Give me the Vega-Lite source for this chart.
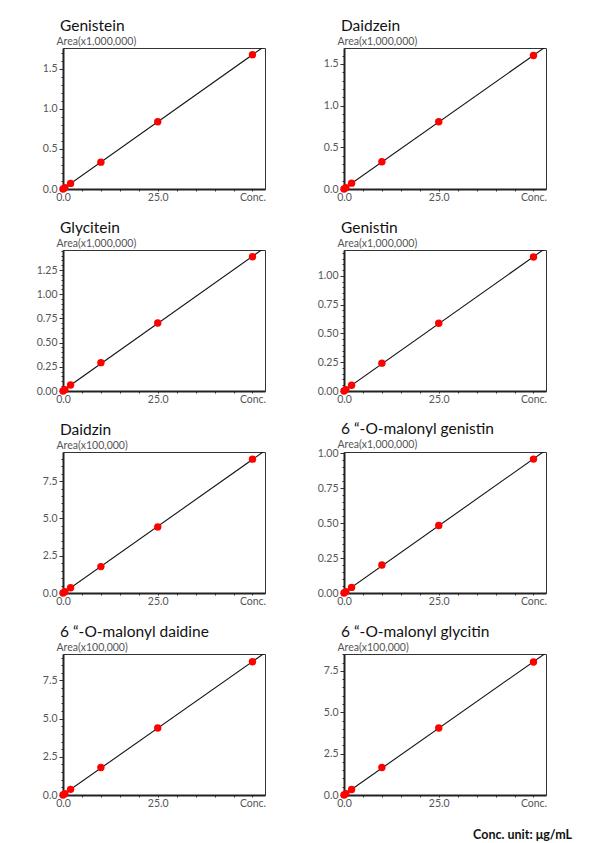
{
  "$schema": "https://vega.github.io/schema/vega-lite/v6.json",
  "padding": {"left": 35, "top": 18, "right": 5, "bottom": 5},
  "background": "white",
  "datasets": {
    "cal": [
      {"c": "Genistein", "x": 0, "y": 0}, {"c": "Genistein", "x": 0.5, "y": 0.017}, {"c": "Genistein", "x": 2, "y": 0.07}, {"c": "Genistein", "x": 10, "y": 0.335}, {"c": "Genistein", "x": 25, "y": 0.84}, {"c": "Genistein", "x": 50, "y": 1.675},
      {"c": "Daidzein", "x": 0, "y": 0}, {"c": "Daidzein", "x": 0.5, "y": 0.016}, {"c": "Daidzein", "x": 2, "y": 0.07}, {"c": "Daidzein", "x": 10, "y": 0.326}, {"c": "Daidzein", "x": 25, "y": 0.807}, {"c": "Daidzein", "x": 50, "y": 1.6},
      {"c": "Glycitein", "x": 0, "y": 0}, {"c": "Glycitein", "x": 0.5, "y": 0.014}, {"c": "Glycitein", "x": 2, "y": 0.062}, {"c": "Glycitein", "x": 10, "y": 0.293}, {"c": "Glycitein", "x": 25, "y": 0.702}, {"c": "Glycitein", "x": 50, "y": 1.388},
      {"c": "Genistin", "x": 0, "y": 0}, {"c": "Genistin", "x": 0.5, "y": 0.012}, {"c": "Genistin", "x": 2, "y": 0.05}, {"c": "Genistin", "x": 10, "y": 0.242}, {"c": "Genistin", "x": 25, "y": 0.588}, {"c": "Genistin", "x": 50, "y": 1.164},
      {"c": "Daidzin", "x": 0, "y": 0}, {"c": "Daidzin", "x": 0.5, "y": 0.09}, {"c": "Daidzin", "x": 2, "y": 0.35}, {"c": "Daidzin", "x": 10, "y": 1.77}, {"c": "Daidzin", "x": 25, "y": 4.43}, {"c": "Daidzin", "x": 50, "y": 8.97},
      {"c": "6 “-O-malonyl genistin", "x": 0, "y": 0}, {"c": "6 “-O-malonyl genistin", "x": 0.5, "y": 0.01}, {"c": "6 “-O-malonyl genistin", "x": 2, "y": 0.04}, {"c": "6 “-O-malonyl genistin", "x": 10, "y": 0.2}, {"c": "6 “-O-malonyl genistin", "x": 25, "y": 0.484}, {"c": "6 “-O-malonyl genistin", "x": 50, "y": 0.959},
      {"c": "6 “-O-malonyl daidine", "x": 0, "y": 0}, {"c": "6 “-O-malonyl daidine", "x": 0.5, "y": 0.09}, {"c": "6 “-O-malonyl daidine", "x": 2, "y": 0.37}, {"c": "6 “-O-malonyl daidine", "x": 10, "y": 1.8}, {"c": "6 “-O-malonyl daidine", "x": 25, "y": 4.39}, {"c": "6 “-O-malonyl daidine", "x": 50, "y": 8.72},
      {"c": "6 “-O-malonyl glycitin", "x": 0, "y": 0}, {"c": "6 “-O-malonyl glycitin", "x": 0.5, "y": 0.08}, {"c": "6 “-O-malonyl glycitin", "x": 2, "y": 0.33}, {"c": "6 “-O-malonyl glycitin", "x": 10, "y": 1.66}, {"c": "6 “-O-malonyl glycitin", "x": 25, "y": 4.05}, {"c": "6 “-O-malonyl glycitin", "x": 50, "y": 8.04}
    ]
  },
  "data": {"name": "cal"},
  "title": {"text": "Conc. unit: μg/mL", "orient": "bottom", "anchor": "end", "fontSize": 12.5, "fontWeight": "bold", "color": "#111", "offset": 20, "dx": 25},
  "columns": 2,
  "spacing": {"row": 61, "column": 79},
  "bounds": "flush",
  "concat": [
    {
      "title": {"text": "Genistein", "dx": -3, "offset": 2, "frame": "group"},
      "width": 202, "height": 141,
      "transform": [{"filter": "datum.c === 'Genistein'"}],
      "encoding": {
        "x": {"field": "x", "type": "quantitative", "scale": {"domain": [0, 53.3], "nice": false}, "axis": {"title": null, "values": [0,5,10,15,20,25,30,35,40,45,50], "tickSize": 2, "labelPadding": 1, "labelExpr": "datum.value == 0 ? '0.0' : datum.value == 25 ? '25.0' : datum.value == 50 ? 'Conc.' : ''"}},
        "y": {"field": "y", "type": "quantitative", "scale": {"domain": [0, 1.76], "nice": false}, "axis": {"title": "Area(x1,000,000)", "titleAngle": 0, "titleAlign": "left", "titleBaseline": "alphabetic", "titleX": -7, "titleY": -4, "values": [0,0.1,0.2,0.3,0.4,0.5,0.6,0.7,0.8,0.9,1.0,1.1,1.2,1.3,1.4,1.5,1.6,1.7], "tickSize": {"condition": {"test": "abs(datum.value*2 - round(datum.value*2)) < 0.001", "value": 4}, "value": 2}, "labelPadding": 2, "labelExpr": "abs(datum.value*2 - round(datum.value*2)) < 0.001 ? format(datum.value, '.1f') : ''"}}
      },
      "layer": [
        {"mark": {"type": "line", "color": "#111", "strokeWidth": 1.1, "clip": true}, "transform": [{"regression": "y", "on": "x", "extent": [0, 54]}], "encoding": {}},
        {"mark": {"type": "circle", "color": "#ff0000", "size": 55, "opacity": 1}, "encoding": {}}
      ]
    },
    {
      "title": {"text": "Daidzein", "dx": -3, "offset": 2, "frame": "group"},
      "width": 202, "height": 141,
      "transform": [{"filter": "datum.c === 'Daidzein'"}],
      "encoding": {
        "x": {"field": "x", "type": "quantitative", "scale": {"domain": [0, 53.3], "nice": false}, "axis": {"title": null, "values": [0,5,10,15,20,25,30,35,40,45,50], "tickSize": 2, "labelPadding": 1, "labelExpr": "datum.value == 0 ? '0.0' : datum.value == 25 ? '25.0' : datum.value == 50 ? 'Conc.' : ''"}},
        "y": {"field": "y", "type": "quantitative", "scale": {"domain": [0, 1.69], "nice": false}, "axis": {"title": "Area(x1,000,000)", "titleAngle": 0, "titleAlign": "left", "titleBaseline": "alphabetic", "titleX": -7, "titleY": -4, "values": [0,0.1,0.2,0.3,0.4,0.5,0.6,0.7,0.8,0.9,1.0,1.1,1.2,1.3,1.4,1.5,1.6], "tickSize": {"condition": {"test": "abs(datum.value*2 - round(datum.value*2)) < 0.001", "value": 4}, "value": 2}, "labelPadding": 2, "labelExpr": "abs(datum.value*2 - round(datum.value*2)) < 0.001 ? format(datum.value, '.1f') : ''"}}
      },
      "layer": [
        {"mark": {"type": "line", "color": "#111", "strokeWidth": 1.1, "clip": true}, "transform": [{"regression": "y", "on": "x", "extent": [0, 54]}], "encoding": {}},
        {"mark": {"type": "circle", "color": "#ff0000", "size": 55, "opacity": 1}, "encoding": {}}
      ]
    },
    {
      "title": {"text": "Glycitein", "dx": -3, "offset": 2, "frame": "group"},
      "width": 202, "height": 141,
      "transform": [{"filter": "datum.c === 'Glycitein'"}],
      "encoding": {
        "x": {"field": "x", "type": "quantitative", "scale": {"domain": [0, 53.3], "nice": false}, "axis": {"title": null, "values": [0,5,10,15,20,25,30,35,40,45,50], "tickSize": 2, "labelPadding": 1, "labelExpr": "datum.value == 0 ? '0.0' : datum.value == 25 ? '25.0' : datum.value == 50 ? 'Conc.' : ''"}},
        "y": {"field": "y", "type": "quantitative", "scale": {"domain": [0, 1.457], "nice": false}, "axis": {"title": "Area(x1,000,000)", "titleAngle": 0, "titleAlign": "left", "titleBaseline": "alphabetic", "titleX": -7, "titleY": -4, "values": [0,0.05,0.1,0.15,0.2,0.25,0.3,0.35,0.4,0.45,0.5,0.55,0.6,0.65,0.7,0.75,0.8,0.85,0.9,0.95,1.0,1.05,1.1,1.15,1.2,1.25,1.3,1.35,1.4,1.45], "tickSize": {"condition": {"test": "abs(datum.value*4 - round(datum.value*4)) < 0.001", "value": 4}, "value": 2}, "labelPadding": 2, "labelExpr": "abs(datum.value*4 - round(datum.value*4)) < 0.001 ? format(datum.value, '.2f') : ''"}}
      },
      "layer": [
        {"mark": {"type": "line", "color": "#111", "strokeWidth": 1.1, "clip": true}, "transform": [{"regression": "y", "on": "x", "extent": [0, 54]}], "encoding": {}},
        {"mark": {"type": "circle", "color": "#ff0000", "size": 55, "opacity": 1}, "encoding": {}}
      ]
    },
    {
      "title": {"text": "Genistin", "dx": -3, "offset": 2, "frame": "group"},
      "width": 202, "height": 141,
      "transform": [{"filter": "datum.c === 'Genistin'"}],
      "encoding": {
        "x": {"field": "x", "type": "quantitative", "scale": {"domain": [0, 53.3], "nice": false}, "axis": {"title": null, "values": [0,5,10,15,20,25,30,35,40,45,50], "tickSize": 2, "labelPadding": 1, "labelExpr": "datum.value == 0 ? '0.0' : datum.value == 25 ? '25.0' : datum.value == 50 ? 'Conc.' : ''"}},
        "y": {"field": "y", "type": "quantitative", "scale": {"domain": [0, 1.225], "nice": false}, "axis": {"title": "Area(x1,000,000)", "titleAngle": 0, "titleAlign": "left", "titleBaseline": "alphabetic", "titleX": -7, "titleY": -4, "values": [0,0.05,0.1,0.15,0.2,0.25,0.3,0.35,0.4,0.45,0.5,0.55,0.6,0.65,0.7,0.75,0.8,0.85,0.9,0.95,1.0,1.05,1.1,1.15,1.2], "tickSize": {"condition": {"test": "abs(datum.value*4 - round(datum.value*4)) < 0.001", "value": 4}, "value": 2}, "labelPadding": 2, "labelExpr": "abs(datum.value*4 - round(datum.value*4)) < 0.001 ? format(datum.value, '.2f') : ''"}}
      },
      "layer": [
        {"mark": {"type": "line", "color": "#111", "strokeWidth": 1.1, "clip": true}, "transform": [{"regression": "y", "on": "x", "extent": [0, 54]}], "encoding": {}},
        {"mark": {"type": "circle", "color": "#ff0000", "size": 55, "opacity": 1}, "encoding": {}}
      ]
    },
    {
      "title": {"text": "Daidzin", "dx": -3, "offset": 2, "frame": "group"},
      "width": 202, "height": 141,
      "transform": [{"filter": "datum.c === 'Daidzin'"}],
      "encoding": {
        "x": {"field": "x", "type": "quantitative", "scale": {"domain": [0, 53.3], "nice": false}, "axis": {"title": null, "values": [0,5,10,15,20,25,30,35,40,45,50], "tickSize": 2, "labelPadding": 1, "labelExpr": "datum.value == 0 ? '0.0' : datum.value == 25 ? '25.0' : datum.value == 50 ? 'Conc.' : ''"}},
        "y": {"field": "y", "type": "quantitative", "scale": {"domain": [0, 9.45], "nice": false}, "axis": {"title": "Area(x100,000)", "titleAngle": 0, "titleAlign": "left", "titleBaseline": "alphabetic", "titleX": -7, "titleY": -4, "values": [0,0.5,1,1.5,2,2.5,3,3.5,4,4.5,5,5.5,6,6.5,7,7.5,8,8.5,9], "tickSize": {"condition": {"test": "abs(datum.value/2.5 - round(datum.value/2.5)) < 0.001", "value": 4}, "value": 2}, "labelPadding": 2, "labelExpr": "abs(datum.value/2.5 - round(datum.value/2.5)) < 0.001 ? format(datum.value, '.1f') : ''"}}
      },
      "layer": [
        {"mark": {"type": "line", "color": "#111", "strokeWidth": 1.1, "clip": true}, "transform": [{"regression": "y", "on": "x", "extent": [0, 54]}], "encoding": {}},
        {"mark": {"type": "circle", "color": "#ff0000", "size": 55, "opacity": 1}, "encoding": {}}
      ]
    },
    {
      "title": {"text": "6 “-O-malonyl genistin", "dx": -3, "offset": 2, "frame": "group"},
      "width": 202, "height": 141,
      "transform": [{"filter": "datum.c === '6 “-O-malonyl genistin'"}],
      "encoding": {
        "x": {"field": "x", "type": "quantitative", "scale": {"domain": [0, 53.3], "nice": false}, "axis": {"title": null, "values": [0,5,10,15,20,25,30,35,40,45,50], "tickSize": 2, "labelPadding": 1, "labelExpr": "datum.value == 0 ? '0.0' : datum.value == 25 ? '25.0' : datum.value == 50 ? 'Conc.' : ''"}},
        "y": {"field": "y", "type": "quantitative", "scale": {"domain": [0, 1.01], "nice": false}, "axis": {"title": "Area(x1,000,000)", "titleAngle": 0, "titleAlign": "left", "titleBaseline": "alphabetic", "titleX": -7, "titleY": -5, "values": [0,0.05,0.1,0.15,0.2,0.25,0.3,0.35,0.4,0.45,0.5,0.55,0.6,0.65,0.7,0.75,0.8,0.85,0.9,0.95,1.0], "tickSize": {"condition": {"test": "abs(datum.value*4 - round(datum.value*4)) < 0.001", "value": 4}, "value": 2}, "labelPadding": 2, "labelExpr": "abs(datum.value*4 - round(datum.value*4)) < 0.001 ? format(datum.value, '.2f') : ''"}}
      },
      "layer": [
        {"mark": {"type": "line", "color": "#111", "strokeWidth": 1.1, "clip": true}, "transform": [{"regression": "y", "on": "x", "extent": [0, 54]}], "encoding": {}},
        {"mark": {"type": "circle", "color": "#ff0000", "size": 55, "opacity": 1}, "encoding": {}}
      ]
    },
    {
      "title": {"text": "6 “-O-malonyl daidine", "dx": -3, "offset": 2, "frame": "group"},
      "width": 202, "height": 141,
      "transform": [{"filter": "datum.c === '6 “-O-malonyl daidine'"}],
      "encoding": {
        "x": {"field": "x", "type": "quantitative", "scale": {"domain": [0, 53.3], "nice": false}, "axis": {"title": null, "values": [0,5,10,15,20,25,30,35,40,45,50], "tickSize": 2, "labelPadding": 1, "labelExpr": "datum.value == 0 ? '0.0' : datum.value == 25 ? '25.0' : datum.value == 50 ? 'Conc.' : ''"}},
        "y": {"field": "y", "type": "quantitative", "scale": {"domain": [0, 9.23], "nice": false}, "axis": {"title": "Area(x100,000)", "titleAngle": 0, "titleAlign": "left", "titleBaseline": "alphabetic", "titleX": -7, "titleY": -4, "values": [0,0.5,1,1.5,2,2.5,3,3.5,4,4.5,5,5.5,6,6.5,7,7.5,8,8.5,9], "tickSize": {"condition": {"test": "abs(datum.value/2.5 - round(datum.value/2.5)) < 0.001", "value": 4}, "value": 2}, "labelPadding": 2, "labelExpr": "abs(datum.value/2.5 - round(datum.value/2.5)) < 0.001 ? format(datum.value, '.1f') : ''"}}
      },
      "layer": [
        {"mark": {"type": "line", "color": "#111", "strokeWidth": 1.1, "clip": true}, "transform": [{"regression": "y", "on": "x", "extent": [0, 54]}], "encoding": {}},
        {"mark": {"type": "circle", "color": "#ff0000", "size": 55, "opacity": 1}, "encoding": {}}
      ]
    },
    {
      "title": {"text": "6 “-O-malonyl glycitin", "dx": -3, "offset": 2, "frame": "group"},
      "width": 202, "height": 141,
      "transform": [{"filter": "datum.c === '6 “-O-malonyl glycitin'"}],
      "encoding": {
        "x": {"field": "x", "type": "quantitative", "scale": {"domain": [0, 53.3], "nice": false}, "axis": {"title": null, "values": [0,5,10,15,20,25,30,35,40,45,50], "tickSize": 2, "labelPadding": 1, "labelExpr": "datum.value == 0 ? '0.0' : datum.value == 25 ? '25.0' : datum.value == 50 ? 'Conc.' : ''"}},
        "y": {"field": "y", "type": "quantitative", "scale": {"domain": [0, 8.52], "nice": false}, "axis": {"title": "Area(x100,000)", "titleAngle": 0, "titleAlign": "left", "titleBaseline": "alphabetic", "titleX": -7, "titleY": -4, "values": [0,0.5,1,1.5,2,2.5,3,3.5,4,4.5,5,5.5,6,6.5,7,7.5,8,8.5], "tickSize": {"condition": {"test": "abs(datum.value/2.5 - round(datum.value/2.5)) < 0.001", "value": 4}, "value": 2}, "labelPadding": 2, "labelExpr": "abs(datum.value/2.5 - round(datum.value/2.5)) < 0.001 ? format(datum.value, '.1f') : ''"}}
      },
      "layer": [
        {"mark": {"type": "line", "color": "#111", "strokeWidth": 1.1, "clip": true}, "transform": [{"regression": "y", "on": "x", "extent": [0, 54]}], "encoding": {}},
        {"mark": {"type": "circle", "color": "#ff0000", "size": 55, "opacity": 1}, "encoding": {}}
      ]
    }
  ],
  "config": {
    "font": "Lato",
    "view": {"stroke": "#333", "strokeWidth": 1},
    "axis": {"grid": false, "domainColor": "#222", "domainWidth": 2, "tickColor": "#333", "tickWidth": 1, "labelColor": "#555", "labelFontSize": 10.5, "labelFont": "Lato", "labelOverlap": false, "labelFlush": false, "titleFont": "Lato", "titleFontWeight": "normal", "titleColor": "#555", "titleFontSize": 10.5},
    "title": {"font": "Lato", "fontSize": 15.5, "fontWeight": "normal", "color": "#111", "anchor": "start"}
  }
}
